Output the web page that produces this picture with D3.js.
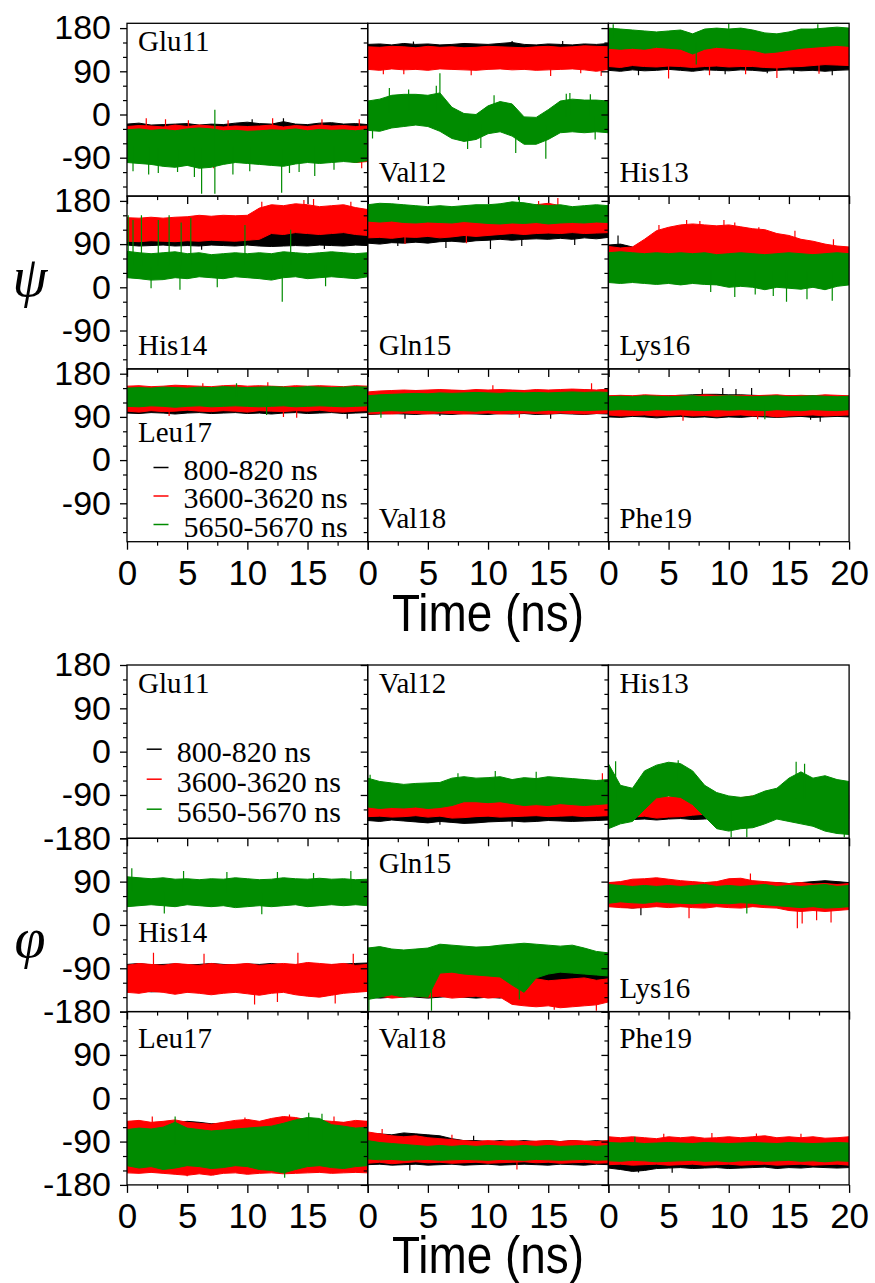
<!DOCTYPE html>
<html>
<head>
<meta charset="utf-8">
<script src="https://cdn.jsdelivr.net/npm/d3@7"></script>
<style>
  html, body { margin: 0; padding: 0; background: #fff; }
  svg { display: block; }
</style>
</head>
<body>
<svg id="chart" width="875" height="1283"></svg>
<script>
// ---- categories, legend and tick labels ----
const residues = ["Glu11", "Val12", "His13", "His14", "Gln15", "Lys16", "Leu17", "Val18", "Phe19"];
const windows = ["800-820 ns", "3600-3620 ns", "5650-5670 ns"];
const seriesColors = ["#000000", "#ff0000", "#008b00"];
const timeTicks = [0, 5, 10, 15, 20];
const timeMinor = [2.5, 7.5, 12.5, 17.5];
const angleTicks = [-180, -90, 0, 90, 180];
const angleMinor = [-150, -120, -60, -30, 30, 60, 120, 150];
const times = [0,1,2,3,4,5,6,7,8,9,10,11,12,13,14,15,16,17,18,19,20]; // ns

// ---- dihedral envelopes: per window [low, high] sampled every ns (degrees) ----
// psi
const psiGlu11 = [
  [[-75,-76,-74,-75,-77,-76,-78,-80,-76,-75,-74,-76,-75,-77,-75,-74,-76,-75,-74,-76,-75],
   [-20,-18,-22,-21,-20,-19,-22,-20,-21,-18,-16,-19,-20,-15,-20,-21,-18,-17,-20,-19,-21]],
  [[-96,-94,-97,-95,-93,-96,-100,-98,-95,-94,-96,-95,-93,-96,-95,-94,-96,-97,-95,-100,-98],
   [-25,-23,-24,-26,-22,-25,-22,-24,-26,-24,-25,-24,-22,-26,-23,-25,-22,-24,-23,-25,-24]],
  [[-100,-102,-104,-108,-110,-106,-112,-110,-104,-100,-102,-104,-106,-108,-103,-100,-102,-100,-98,-100,-96],
   [-32,-30,-33,-31,-34,-30,-28,-30,-34,-33,-35,-34,-32,-33,-30,-34,-31,-33,-32,-34,-31]]
];
const psiVal12 = [
  [[100,102,99,101,100,102,100,99,101,100,102,101,100,99,101,100,102,100,99,101,100],
   [146,147,145,148,146,147,145,146,148,147,146,148,150,146,145,147,146,145,147,146,148]],
  [[94,92,95,93,94,92,95,94,93,92,94,95,93,94,92,93,94,95,93,90,94],
   [141,140,142,141,139,142,140,141,139,140,142,141,140,139,141,142,140,141,143,142,141]],
  [[-33,-35,-28,-25,-22,-25,-35,-50,-56,-52,-40,-36,-45,-62,-62,-52,-38,-36,-38,-36,-38],
   [28,32,40,42,42,40,45,15,2,0,18,27,22,-5,-6,10,28,32,30,30,28]]
];
const psiHis13 = [
  [[92,90,93,91,92,94,92,90,93,92,91,93,92,90,92,93,91,92,90,92,93],
   [138,137,139,138,137,138,139,140,138,137,138,139,137,138,136,138,140,142,145,144,143]],
  [[100,98,102,100,99,101,100,98,100,101,99,100,100,98,97,99,100,102,104,103,102],
   [142,140,143,141,140,142,140,145,142,140,141,140,139,140,138,140,142,150,152,150,148]],
  [[138,136,138,136,140,138,136,126,136,140,138,136,134,128,130,134,138,140,142,144,142],
   [180,178,176,174,172,174,176,168,178,180,178,180,176,170,168,172,178,178,180,182,180]]
];
const psiHis14 = [
  [[88,86,87,88,86,87,86,88,87,86,88,86,85,86,87,86,88,87,86,88,87],
   [140,138,140,139,141,140,142,141,140,140,142,135,136,138,137,138,136,137,135,136,138]],
  [[96,95,97,96,95,97,96,98,97,96,98,100,112,110,114,112,110,112,114,110,108],
   [145,144,146,144,146,147,150,148,150,149,150,165,172,170,174,172,168,170,172,166,162]],
  [[20,18,15,16,20,18,22,20,18,22,20,18,15,20,22,18,20,22,20,18,22],
   [75,72,70,72,74,70,72,68,70,72,70,72,70,74,72,70,72,74,72,70,72]]
];
const psiGln15 = [
  [[92,90,93,92,94,92,95,96,94,97,98,100,98,100,101,100,102,100,103,101,104],
   [125,126,125,127,126,128,128,130,129,130,131,132,130,133,132,134,133,134,135,134,135]],
  [[103,104,102,105,104,106,103,105,108,106,108,110,112,110,112,113,112,114,112,113,114],
   [150,148,150,152,150,148,150,152,154,152,155,158,160,166,172,175,170,160,156,154,152]],
  [[138,136,138,135,134,136,135,134,137,135,133,132,134,133,135,132,134,135,134,136,135],
   [172,175,174,172,170,168,170,168,170,172,172,174,178,176,172,170,172,168,170,172,170]]
];
const psiLys16 = [
  [[22,24,22,20,22,24,22,20,22,22,20,22,20,22,20,22,20,18,18,15,14],
   [88,90,84,80,82,84,82,80,82,82,80,82,80,82,80,82,80,82,80,84,82]],
  [[40,42,40,40,42,40,40,38,40,42,40,40,42,40,40,42,40,40,40,38,40],
   [85,82,84,100,118,125,130,132,130,128,130,126,122,120,112,108,100,96,90,86,84]],
  [[10,8,10,8,6,8,5,8,6,5,0,2,0,-5,0,-2,-4,0,-5,2,5],
   [72,74,72,70,72,70,72,70,72,68,70,72,70,68,70,72,70,68,70,72,70]]
];
const psiLeu17 = [
  [[98,97,99,98,96,98,99,97,98,99,97,98,96,98,99,97,98,99,97,98,99],
   [146,147,148,146,147,148,147,146,148,147,149,148,147,148,149,147,148,147,148,149,148]],
  [[102,100,103,101,102,104,102,101,103,102,100,103,102,101,103,102,104,101,100,102,103],
   [154,155,153,154,156,155,154,153,155,156,154,155,154,153,155,154,155,154,153,155,154]],
  [[112,111,113,112,110,112,113,111,112,113,112,111,112,113,111,112,113,112,111,112,113],
   [150,151,150,152,151,150,152,151,153,152,151,152,153,152,151,153,152,151,152,153,152]]
];
const psiVal18 = [
  [[95,96,97,96,95,97,96,95,97,96,95,97,96,97,95,96,97,96,95,97,96],
   [140,141,142,143,144,143,144,145,144,143,145,144,145,144,143,145,144,145,146,145,146]],
  [[96,97,96,98,97,96,98,97,96,97,98,96,97,98,97,96,98,97,96,97,98],
   [142,144,145,146,145,146,147,146,145,147,146,147,146,145,147,146,147,148,147,146,148]],
  [[100,102,103,102,104,103,102,104,103,102,104,103,104,103,102,104,103,104,103,104,105],
   [134,136,137,138,139,138,140,139,140,141,140,139,141,140,141,140,141,142,141,142,141]]
];
const psiPhe19 = [
  [[90,89,91,90,88,90,91,89,90,88,90,89,91,90,89,90,91,89,90,91,90],
   [133,134,133,134,133,134,135,136,137,137,136,136,135,134,133,134,133,134,133,132,133]],
  [[94,92,93,94,92,93,94,92,93,91,93,94,92,93,90,92,93,94,92,93,94],
   [134,135,134,136,135,134,135,134,136,135,134,135,134,135,136,134,135,134,136,135,134]],
  [[104,105,104,103,105,104,105,104,103,105,104,105,104,103,105,104,103,105,104,103,105],
   [132,133,132,134,133,132,133,134,132,133,134,133,132,133,134,132,133,134,133,132,133]]
];

// phi (Glu11 has no phi trace)
const phiGlu11 = [];
const phiVal12 = [
  [[-143,-145,-142,-144,-146,-148,-145,-147,-149,-148,-146,-145,-144,-146,-145,-143,-144,-145,-144,-143,-142],
   [-105,-104,-106,-105,-103,-106,-104,-105,-103,-104,-106,-105,-104,-103,-105,-106,-104,-105,-103,-104,-105]],
  [[-135,-134,-136,-135,-133,-136,-134,-138,-137,-135,-134,-136,-135,-134,-133,-135,-134,-133,-135,-134,-133],
   [-92,-94,-93,-95,-94,-92,-93,-94,-92,-95,-93,-94,-92,-93,-95,-94,-92,-93,-94,-92,-93]],
  [[-115,-118,-116,-117,-115,-118,-116,-112,-104,-104,-106,-104,-108,-112,-110,-112,-108,-110,-112,-110,-108],
   [-55,-62,-65,-68,-66,-65,-64,-55,-52,-55,-54,-52,-58,-54,-56,-52,-54,-56,-58,-60,-58]]
];
const phiHis13 = [
  [[-140,-138,-141,-140,-142,-140,-139,-141,-140,-138,-140,-141,-139,-140,-138,-140,-141,-139,-140,-141,-140],
   [-102,-100,-103,-101,-100,-102,-101,-103,-100,-102,-101,-100,-102,-103,-101,-100,-102,-101,-100,-102,-101]],
  [[-135,-130,-136,-134,-138,-136,-135,-132,-130,-128,-132,-130,-128,-130,-126,-128,-130,-128,-126,-130,-128],
   [-95,-92,-96,-90,-92,-94,-92,-95,-98,-96,-94,-96,-92,-95,-93,-96,-94,-92,-95,-94,-90]],
  [[-160,-150,-145,-120,-96,-92,-95,-110,-135,-160,-165,-160,-158,-150,-140,-145,-150,-155,-165,-170,-172],
   [-25,-70,-76,-40,-28,-22,-25,-40,-70,-85,-92,-95,-92,-82,-76,-55,-42,-55,-50,-58,-62]]
];
const phiHis14 = [
  [[-138,-136,-139,-138,-137,-139,-138,-136,-138,-139,-137,-138,-136,-138,-139,-137,-138,-139,-137,-138,-136],
   [-82,-80,-83,-82,-81,-83,-82,-80,-82,-83,-81,-82,-80,-82,-83,-81,-82,-83,-81,-80,-79]],
  [[-140,-142,-138,-140,-144,-140,-142,-145,-142,-140,-143,-146,-142,-140,-145,-148,-150,-146,-142,-140,-138],
   [-84,-80,-82,-84,-80,-82,-84,-80,-83,-82,-80,-84,-82,-80,-82,-78,-80,-82,-80,-84,-82]],
  [[38,40,42,40,38,42,40,38,40,36,38,40,38,40,42,38,40,42,40,42,40],
   [100,98,96,98,95,96,94,96,95,98,96,94,95,98,96,95,97,95,96,94,95]]
];
const phiGln15 = [
  [[-150,-152,-150,-148,-150,-152,-150,-148,-150,-152,-150,-152,-145,-142,-140,-138,-140,-142,-140,-138,-140],
   [-100,-102,-100,-104,-102,-100,-104,-102,-100,-102,-104,-100,-96,-94,-92,-96,-95,-94,-96,-98,-100]],
  [[-150,-148,-152,-150,-148,-150,-148,-152,-150,-148,-152,-150,-165,-168,-170,-168,-172,-170,-168,-166,-160],
   [-100,-98,-100,-102,-100,-98,-100,-96,-98,-100,-96,-98,-115,-114,-112,-116,-114,-112,-110,-115,-112]],
  [[-155,-150,-145,-150,-148,-150,-100,-98,-102,-104,-106,-108,-125,-140,-110,-102,-98,-100,-102,-104,-106],
   [-48,-45,-50,-52,-50,-48,-40,-42,-44,-46,-45,-42,-40,-38,-40,-42,-44,-42,-48,-55,-58]]
];
const phiLys16 = [
  [[40,38,35,38,40,38,40,38,40,42,40,38,40,38,40,38,40,38,40,42,40],
   [88,86,85,88,86,85,88,86,85,88,86,88,85,86,88,86,88,90,92,90,88]],
  [[38,36,35,36,38,36,38,36,35,38,36,35,38,36,35,30,28,30,28,30,32],
   [88,90,95,96,98,95,92,90,88,90,96,97,92,90,88,86,88,85,86,84,86]],
  [[45,48,46,45,48,46,45,44,46,45,44,46,45,42,40,38,36,38,35,36,38],
   [84,82,80,82,80,82,80,82,84,80,82,80,82,84,80,82,80,82,84,80,82]]
];
const phiLeu17 = [
  [[-150,-148,-151,-150,-152,-150,-149,-151,-150,-148,-150,-151,-152,-150,-149,-151,-150,-148,-150,-151,-150],
   [-52,-50,-53,-52,-51,-48,-50,-53,-52,-50,-51,-52,-50,-46,-45,-48,-50,-52,-51,-50,-48]],
  [[-155,-156,-154,-156,-158,-160,-157,-160,-156,-155,-158,-156,-155,-157,-156,-155,-154,-156,-155,-154,-155],
   [-48,-46,-50,-48,-45,-50,-52,-54,-50,-46,-44,-48,-42,-38,-40,-45,-46,-48,-50,-46,-48]],
  [[-140,-145,-142,-148,-145,-140,-142,-146,-144,-140,-142,-148,-150,-155,-148,-142,-140,-144,-146,-142,-140],
   [-65,-62,-64,-60,-50,-62,-65,-68,-66,-64,-62,-60,-58,-52,-45,-40,-42,-55,-58,-62,-60]]
];
const phiVal18 = [
  [[-138,-137,-139,-138,-137,-139,-138,-137,-139,-138,-137,-139,-138,-137,-138,-139,-137,-138,-139,-137,-138],
   [-75,-74,-76,-72,-74,-76,-78,-84,-88,-88,-90,-88,-90,-88,-90,-88,-90,-88,-90,-88,-90]],
  [[-135,-133,-136,-134,-132,-134,-133,-135,-134,-133,-135,-134,-133,-132,-134,-133,-135,-134,-133,-135,-134],
   [-70,-74,-78,-80,-78,-82,-84,-86,-88,-90,-88,-90,-88,-90,-89,-88,-90,-88,-89,-90,-88]],
  [[-126,-128,-127,-129,-128,-127,-129,-128,-127,-128,-129,-127,-128,-129,-127,-128,-129,-128,-127,-129,-128],
   [-88,-92,-94,-96,-98,-100,-98,-100,-98,-100,-98,-99,-100,-98,-100,-98,-100,-99,-98,-100,-98]]
];
const phiPhe19 = [
  [[-145,-148,-152,-150,-146,-145,-144,-146,-145,-144,-146,-145,-144,-143,-146,-144,-145,-143,-144,-145,-144],
   [-100,-101,-100,-102,-101,-100,-101,-102,-100,-101,-100,-102,-101,-100,-101,-102,-100,-101,-100,-102,-101]],
  [[-138,-137,-139,-138,-137,-139,-138,-137,-139,-138,-137,-139,-138,-137,-139,-138,-137,-139,-138,-137,-139],
   [-80,-82,-80,-82,-84,-80,-82,-80,-83,-82,-80,-82,-80,-78,-82,-80,-82,-80,-83,-82,-80]],
  [[-130,-131,-129,-130,-132,-131,-130,-129,-131,-130,-132,-130,-129,-131,-130,-129,-131,-130,-132,-130,-131],
   [-92,-93,-92,-94,-93,-92,-93,-94,-92,-93,-94,-93,-92,-93,-94,-92,-93,-94,-93,-92,-93]]
];

// ---- isolated excursions: [window index, time (ns), angle (deg)] ----
const psiSpikes = {
  Glu11: [[2,6.2,-165],[2,7.3,-165],[2,7.3,10],[2,12.85,-163],[2,5.6,-130],[2,1.8,-125],[2,15.6,-128],
          [2,0.5,-118],[2,2.6,-122],[2,4.2,-120],[2,8.8,-125],[2,10.2,-118],[2,13.5,-122],[2,14.3,-120],[2,17.2,-115],
          [1,7.2,-112],[1,19.5,-112],[1,1.6,-8],[1,16.2,-10],[1,3.2,-10],[1,5.1,-12],[1,8.4,-12],[1,12.1,-8],[1,19.3,-10],
          [0,13,-8],[0,10.4,-10]],
  Val12: [[2,6.0,86],[2,5.7,60],[2,12.3,-80],[2,14.8,-92],[2,16.5,43],[2,1.8,55],[2,3.4,52],[2,10.5,40],[2,16.8,45],[2,18.5,42],
          [2,0.4,-50],[2,8.3,-72],[2,9.4,-70],[2,18.9,-52],
          [1,19.4,80],[1,3.0,84],[1,1.3,84],[1,8.6,82],[1,15.2,80],[1,17.7,86],
          [0,12.0,153],[0,3.8,152],[0,16.2,153]],
  His13: [[2,7.3,104],[2,0.4,188],[2,10.0,190],[2,17.4,188],[1,5.0,75],[1,14.0,76],[1,20,120],[1,8.4,82],[1,11.4,84],[1,17.5,85],
          [0,2.5,82],[0,18.6,82],[0,9.7,84],[0,15.4,85],[0,13.2,86]],
  His14: [[2,0.1,150],[2,0.5,140],[2,1.2,150],[2,2.6,140],[2,3.5,150],[2,4.5,135],[2,5.3,145],[2,9.8,130],[2,13.6,120],
          [2,12.9,-30],[2,4.4,-5],[2,2.0,-2],[2,7.5,0],[2,16.5,2],
          [1,11.2,178],[1,15.5,184],[1,14.7,182],[1,18.6,178],[0,11.8,150],[0,6.2,78],[0,16.4,80]],
  Gln15: [[2,12.6,188],[1,15.8,186],[1,14.2,180],[1,3.1,90],[1,8.2,92],[0,10.2,80],[0,2.5,86],[0,6.5,82],[0,12.8,86],[0,17.2,88]],
  Lys16: [[2,10.5,-20],[2,14.8,-30],[2,16.5,-25],[2,18.6,-28],[2,12.2,-15],[2,8.5,-10],[2,13.7,-18],
          [1,6.5,140],[1,9.6,140],[1,10.5,135],[1,12.5,125],[1,15.5,118],[1,18.7,100],[1,4.2,130],[1,7.6,138],
          [0,0.8,108]],
  Leu17: [[1,3.5,92],[1,13.0,90],[1,6.3,160],[1,14.1,88],[1,11.7,162],[0,18.3,86],[2,11.6,94],[2,9.1,160]],
  Val18: [[1,18.6,160],[1,12.6,88],[1,10.4,156],[2,1.1,88],[0,6,92],[0,3.1,86],[0,15.2,86]],
  Phe19: [[0,9.5,150],[0,10.6,148],[0,7.8,148],[0,11.9,150],[0,16.8,84],[0,17.6,80],[1,12.4,85],[1,6.2,82],[2,13.0,85]]
};
const phiSpikes = {
  Glu11: [],
  Val12: [[1,19.5,-45],[1,9.7,-70],[2,7.5,-45],[2,0.2,-48],[2,10.6,-40],[2,14.0,-42],[0,6.0,-152],[0,12,-156]],
  His13: [[2,15.6,-21],[2,16.3,-25],[2,5.8,-18],[2,0.6,-20],[2,11.5,-178],[2,19.6,-178],[2,10.2,-178]],
  His14: [[2,0.4,118],[2,4.7,112],[2,12.5,110],[2,15.5,108],[2,8.3,110],[2,18.6,112],[2,3.1,24],[2,11.2,22],
          [1,2.2,-58],[1,18.8,-60],[1,6.4,-60],[1,14.2,-58],[1,10.6,-165],[1,17.3,-163],[1,12.5,-160]],
  Gln15: [[2,0.1,-178],[2,5.3,-178],[2,12.6,-155],[1,19,-178],[1,15.5,-176],[1,11.4,-90]],
  Lys16: [[1,6.7,14],[1,15.7,-7],[1,16.1,3],[1,17.3,10],[1,18.5,5],[1,11.8,107],[0,2.7,20],[2,11.5,24]],
  Leu17: [[2,4.0,-38],[2,15.1,-30],[2,16.2,-32],[2,13.1,-165],[1,13.5,-34],[1,9.8,-40],[1,2.1,-38],[1,17.2,-38],[1,5.0,-162],[1,7.2,-160]],
  Val18: [[1,7.0,-76],[1,1.2,-64],[1,12.4,-148],[0,8.8,-78],[0,3.5,-150]],
  Phe19: [[0,2.5,-154],[0,5.3,-155],[1,12.3,-73],[1,4.6,-74],[1,8.6,-72],[1,16.0,-74],[2,2.2,-80]]
};

const psiData = [psiGlu11, psiVal12, psiHis13, psiHis14, psiGln15, psiLys16, psiLeu17, psiVal18, psiPhe19];
const phiData = [phiGlu11, phiVal12, phiHis13, phiHis14, phiGln15, phiLys16, phiLeu17, phiVal18, phiPhe19];

// ---- layout ----
const svg = d3.select("#chart");
const colLeft = 127, colW = 240.7;
const grids = [
  { key: "psi", top: 23.3, rowH: 172.8, domain: [-170, 190], data: psiData, spikes: psiSpikes, symbol: "\u03C8", symY: 296,
    legendPanel: 6, legendX: 183.5 - 127, legendY0: 480 - 368.9, legendStep: 28.5,
    labelPos: [["top",27.4],["bottom",14],["bottom",14],["bottom",14],["bottom",14],["bottom",14],["top",72.8],["bottom",14],["bottom",14]],
    timeY: 631 },
  { key: "phi", top: 665, rowH: 173.3, domain: [-180, 180], data: phiData, spikes: phiSpikes, symbol: "\u03C6", symY: 957,
    legendPanel: 0, legendX: 176.7 - 127, legendY0: 761.7 - 665, legendStep: 30,
    labelPos: [["top",28.3],["top",28.3],["top",28.3],["top",103.4],["top",35],["bottom",13.3],["top",36.4],["top",36.4],["top",36.4]],
    timeY: 1273 }
];

const x = d3.scaleLinear().domain([0, 20]).range([0, colW]);
const tickFont = "'Liberation Sans', Arial, Helvetica, sans-serif";
const serifFont = "'Liberation Serif', 'Times New Roman', serif";

grids.forEach((g, gi) => {
  const y = d3.scaleLinear().domain(g.domain).range([g.rowH, 0]);
  const majorIn = angleTicks.filter(v => v >= g.domain[0] && v <= g.domain[1]);
  const minorIn = angleMinor.filter(v => v >= g.domain[0] && v <= g.domain[1]);

  residues.forEach((res, i) => {
    const row = Math.floor(i / 3), col = i % 3;
    const px = colLeft + col * colW, py = g.top + row * g.rowH;
    const p = svg.append("g").attr("transform", `translate(${px},${py})`);
    const clipId = `clip-${g.key}-${i}`;
    p.append("clipPath").attr("id", clipId)
      .append("rect").attr("width", colW).attr("height", g.rowH);

    // traces: envelope band plus isolated excursions, drawn window by window
    const plot = p.append("g").attr("clip-path", `url(#${clipId})`);
    const env = g.data[i];
    const spikes = g.spikes[res] || [];
    env.forEach((s, si) => {
      const [lo, hi] = s;
      const pts = times.map((t, k) => ({ t, lo: lo[k], hi: hi[k] }));
      const area = d3.area().x(d => x(d.t)).y0(d => y(d.lo)).y1(d => y(d.hi));
      plot.append("path").datum(pts)
        .attr("d", area)
        .attr("fill", seriesColors[si])
        .attr("stroke", seriesColors[si])
        .attr("stroke-width", 1);
      const mid = t => {
        const k = Math.min(19, Math.floor(t));
        const f = t - k;
        return ((lo[k] + hi[k]) / 2) * (1 - f) + ((lo[k + 1] + hi[k + 1]) / 2) * f;
      };
      spikes.filter(sp => sp[0] === si).forEach(sp => {
        plot.append("line")
          .attr("x1", x(sp[1])).attr("x2", x(sp[1]))
          .attr("y1", y(mid(sp[1]))).attr("y2", y(sp[2]))
          .attr("stroke", seriesColors[si]).attr("stroke-width", 1.2);
      });
    });

    // left axis (outward ticks)
    const showLabel = col === 0;
    const yMajor = d3.axisLeft(y).tickValues(majorIn).tickSize(7).tickPadding(9)
      .tickFormat(v => {
        if (!showLabel) return "";
        if (row > 0 && v === g.domain[1]) return ""; // shared with the row above
        return String(v);
      });
    const ya = p.append("g").call(yMajor);
    ya.select(".domain").remove();
    ya.selectAll("line").attr("stroke-width", 1.3);
    ya.selectAll("text").attr("font-family", tickFont).attr("font-size", 34).attr("fill", "#000");
    const ym = p.append("g").call(d3.axisLeft(y).tickValues(minorIn).tickSize(4).tickFormat(""));
    ym.select(".domain").remove();
    ym.selectAll("line").attr("stroke-width", 1.2);

    // bottom axis (outward ticks)
    const xMajor = d3.axisBottom(x).tickValues(timeTicks).tickSize(8).tickPadding(10)
      .tickFormat(v => {
        if (row !== 2) return "";
        if (v === 20 && col < 2) return "";
        return String(v);
      });
    const xa = p.append("g").attr("transform", `translate(0,${g.rowH})`).call(xMajor);
    xa.select(".domain").remove();
    xa.selectAll("line").attr("stroke-width", 1.3);
    xa.selectAll("text").attr("font-family", tickFont).attr("font-size", 35).attr("fill", "#000");
    const xm = p.append("g").attr("transform", `translate(0,${g.rowH})`)
      .call(d3.axisBottom(x).tickValues(timeMinor).tickSize(4).tickFormat(""));
    xm.select(".domain").remove();
    xm.selectAll("line").attr("stroke-width", 1.2);

    // frame
    p.append("rect").attr("width", colW).attr("height", g.rowH)
      .attr("fill", "none").attr("stroke", "#000").attr("stroke-width", 1.3);

    // residue label
    const [where, off] = g.labelPos[i];
    p.append("text")
      .attr("x", 11).attr("y", where === "top" ? off : g.rowH - off)
      .attr("font-family", serifFont).attr("font-size", 29).attr("fill", "#000")
      .text(res);

    // legend
    if (i === g.legendPanel) {
      windows.forEach((w, wi) => {
        const by = g.legendY0 + wi * g.legendStep;
        p.append("line")
          .attr("x1", g.legendX - 30).attr("x2", g.legendX - 15)
          .attr("y1", by - 12.5).attr("y2", by - 12.5)
          .attr("stroke", seriesColors[wi]).attr("stroke-width", 1.5);
        p.append("text")
          .attr("x", g.legendX).attr("y", by)
          .attr("font-family", serifFont).attr("font-size", 30).attr("fill", "#000")
          .text(w);
      });
    }
  });

  // axis titles
  svg.append("text")
    .attr("x", 30).attr("y", g.symY)
    .attr("text-anchor", "middle")
    .attr("font-family", serifFont).attr("font-style", "italic")
    .attr("font-size", 56).attr("fill", "#000")
    .text(g.symbol);
  const cx = colLeft + 1.5 * colW;
  svg.append("text")
    .attr("transform", `translate(${cx},${g.timeY}) scale(0.9,1)`)
    .attr("text-anchor", "middle")
    .attr("font-family", tickFont).attr("font-size", 51).attr("fill", "#000")
    .text("Time (ns)");
});
</script>
</body>
</html>
